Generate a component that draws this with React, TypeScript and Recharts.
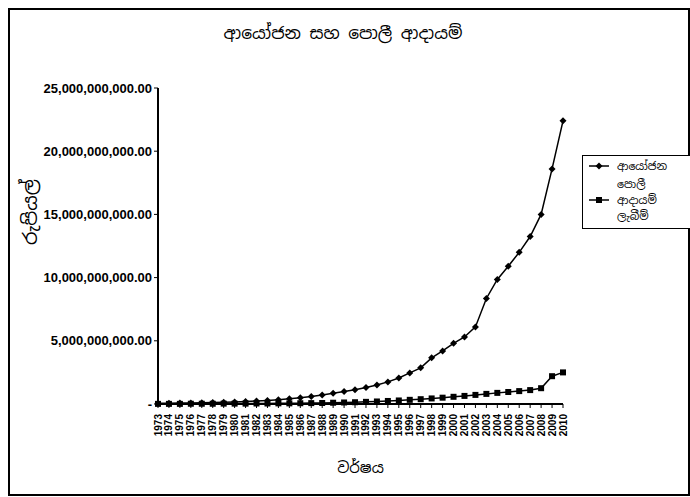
import { Label, Legend, Line, LineChart, XAxis, YAxis } from 'recharts'

const years = [
  1973, 1974, 1975, 1976, 1977, 1978, 1979, 1980, 1981, 1982, 1983, 1984, 1985,
  1986, 1987, 1988, 1989, 1990, 1991, 1992, 1993, 1994, 1995, 1996, 1997, 1998,
  1999, 2000, 2001, 2002, 2003, 2004, 2005, 2006, 2007, 2008, 2009, 2010,
]

// billions of rupees
const investment = [
  0.05, 0.06, 0.07, 0.08, 0.09, 0.11, 0.13, 0.16, 0.19, 0.23, 0.28, 0.34, 0.41,
  0.5, 0.6, 0.72, 0.85, 0.98, 1.12, 1.3, 1.5, 1.75, 2.06, 2.46, 2.86, 3.65,
  4.2, 4.8, 5.3, 6.1, 8.35, 9.85, 10.9, 12.0, 13.25, 15.0, 18.6, 22.4,
]

const interestIncome = [
  0.01, 0.01, 0.01, 0.02, 0.02, 0.02, 0.03, 0.03, 0.03, 0.04, 0.04, 0.05, 0.05,
  0.06, 0.07, 0.08, 0.1, 0.12, 0.14, 0.17, 0.2, 0.24, 0.28, 0.33, 0.38, 0.44,
  0.5, 0.57, 0.64, 0.72, 0.8, 0.88, 0.95, 1.02, 1.1, 1.25, 2.2, 2.5,
]

const yTicks = [0, 5, 10, 15, 20, 25]
const UNIT = 1e9

const data = years.map((year, i) => ({
  year,
  investment: investment[i],
  interest: interestIncome[i],
}))

const sinhala = "'Noto Sans Sinhala', 'Noto Serif Sinhala', 'Iskoola Pota', sans-serif"
const narrow = "'Liberation Sans Narrow', 'Arial Narrow', sans-serif"

const fmtRupees = (v: number) =>
  v === 0
    ? '-'
    : (v * UNIT).toLocaleString('en-US', { minimumFractionDigits: 2, maximumFractionDigits: 2 })

function Diamond({ cx, cy }: any) {
  if (cx == null || cy == null) return null
  return <path d={`M${cx},${cy - 3.5}L${cx + 3.5},${cy}L${cx},${cy + 3.5}L${cx - 3.5},${cy}Z`} fill="#000" />
}

function Square({ cx, cy }: any) {
  if (cx == null || cy == null) return null
  return <rect x={cx - 3} y={cy - 3} width={6} height={6} fill="#000" />
}

function YearTick({ x, y, payload }: any) {
  return (
    <text
      x={x}
      y={y + 4}
      transform={`rotate(-90 ${x} ${y + 4})`}
      textAnchor="end"
      dominantBaseline="central"
      fontFamily={narrow}
      fontWeight={700}
      fontSize={10}
      fill="#000"
    >
      {payload.value}
    </text>
  )
}

function LegendRow({ marker, lines }: { marker: 'diamond' | 'square'; lines: string[] }) {
  return (
    <div style={{ display: 'flex', alignItems: 'center', marginBottom: 2 }}>
      <svg width={26} height={10} style={{ flex: 'none' }}>
        <line x1={2} y1={5} x2={22} y2={5} stroke="#000" strokeWidth={1.5} />
        {marker === 'diamond' ? (
          <path d="M12,1.5L15.5,5L12,8.5L8.5,5Z" fill="#000" />
        ) : (
          <rect x={9} y={2} width={6} height={6} fill="#000" />
        )}
      </svg>
      <div style={{ marginLeft: 4 }}>
        {lines.map((l) => (
          <div key={l} style={{ height: 16, lineHeight: '16px', whiteSpace: 'nowrap' }}>
            {l}
          </div>
        ))}
      </div>
    </div>
  )
}

function ChartLegend() {
  return (
    <div
      style={{
        border: '1px solid #000',
        background: '#fff',
        width: 130,
        padding: '2px 0 2px 4px',
        fontFamily: sinhala,
        fontSize: 11,
        color: '#000',
      }}
    >
      <LegendRow marker="diamond" lines={['ආයෝජන']} />
      <LegendRow marker="square" lines={['පොලී', 'ආදායම්', 'ලැබීම්']} />
    </div>
  )
}

export default function App() {
  return (
    <div style={{ position: 'absolute', left: 0, top: 0, width: 690, height: 497, background: '#fff', overflow: 'hidden' }}>
      <div
        style={{
          position: 'absolute',
          left: 8,
          top: 8,
          width: 678,
          height: 484,
          border: '2px solid #000',
        }}
      />
      <div
        style={{
          position: 'absolute',
          left: 143,
          width: 400,
          top: 22,
          textAlign: 'center',
          fontFamily: sinhala,
          fontSize: 17,
          color: '#000',
        }}
      >
        ආයෝජන සහ පොලී ආදායම්
      </div>
      <div
        style={{
          position: 'absolute',
          left: 30,
          top: 212,
          transform: 'translate(-50%, -50%) rotate(-90deg)',
          fontFamily: sinhala,
          fontSize: 19,
          whiteSpace: 'nowrap',
          color: '#000',
        }}
      >
        රුපියල්
      </div>
      <div style={{ position: 'absolute', left: 0, top: 0 }}>
        <LineChart width={690} height={497} data={data} margin={{ top: 88, right: 127, left: 0, bottom: 18 }}>
          <XAxis
            dataKey="year"
            interval={0}
            tick={<YearTick />}
            tickLine={{ stroke: '#000' }}
            tickSize={4}
            axisLine={{ stroke: '#000', strokeWidth: 2 }}
            height={75}
          >
            <Label
              value="වර්ෂය"
              position="insideBottom"
              offset={6}
              style={{ fontFamily: sinhala, fontSize: 15, fill: '#000' }}
            />
          </XAxis>
          <XAxis xAxisId="top" dataKey="year" orientation="top" height={0} tick={false} tickLine={false} axisLine={{ stroke: '#000', strokeWidth: 1.5 }} />
          <YAxis
            domain={[0, 25]}
            ticks={yTicks}
            tickFormatter={fmtRupees}
            width={158}
            tickSize={4}
            tickLine={{ stroke: '#000' }}
            axisLine={{ stroke: '#000', strokeWidth: 2 }}
            tick={{ fontFamily: narrow, fontWeight: 700, fontSize: 13, fill: '#000' }}
          />
          <YAxis yAxisId="right" orientation="right" domain={[0, 25]} width={0} tick={false} tickLine={false} axisLine={{ stroke: '#000', strokeWidth: 1.5 }} />
          <Legend
            layout="vertical"
            align="center"
            verticalAlign="middle"
            content={<ChartLegend />}
            wrapperStyle={{ left: 582, top: 155, width: 140 }}
          />
          <Line
            type="linear"
            dataKey="investment"
            name="ආයෝජන"
            stroke="#000"
            strokeWidth={1.5}
            dot={<Diamond />}
            isAnimationActive={false}
          />
          <Line
            type="linear"
            dataKey="interest"
            name="පොලී ආදායම් ලැබීම්"
            stroke="#000"
            strokeWidth={1.5}
            dot={<Square />}
            isAnimationActive={false}
          />
        </LineChart>
      </div>
    </div>
  )
}
